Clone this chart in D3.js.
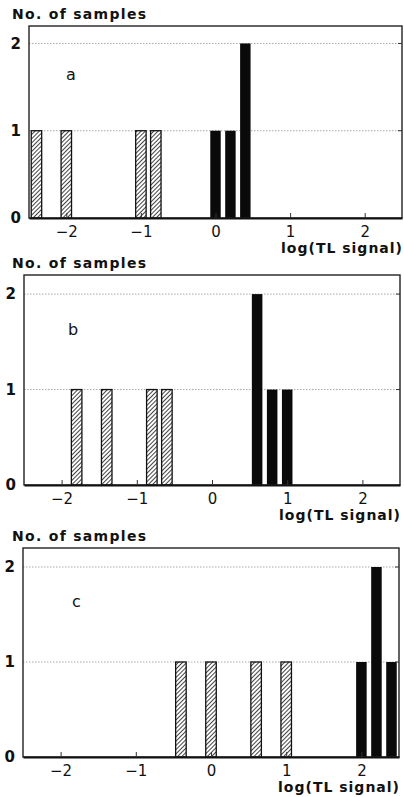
<!DOCTYPE html>
<html>
<head>
<meta charset="utf-8">
<script src="https://cdn.jsdelivr.net/npm/d3@7"></script>
<style>
  body { margin: 0; background: #fff; }
  svg { display: block; }
  text { font-family: "DejaVu Sans", sans-serif; fill: #111; }
</style>
</head>
<body>
<svg width="404" height="797"></svg>
<script>
// bin centres (log TL signal) and sample counts
var aHatchX = [-2.4, -2.0, -1.0, -0.8]
var aHatchN = [1, 1, 1, 1]
var aSolidX = [0.0, 0.2, 0.4]
var aSolidN = [1, 1, 2]

var bHatchX = [-1.8, -1.4, -0.8, -0.6]
var bHatchN = [1, 1, 1, 1]
var bSolidX = [0.6, 0.8, 1.0]
var bSolidN = [2, 1, 1]

var cHatchX = [-0.4, 0.0, 0.6, 1.0]
var cHatchN = [1, 1, 1, 1]
var cSolidX = [2.0, 2.2, 2.4]
var cSolidN = [1, 2, 1]

var xTicks = [-2, -1, 0, 1, 2]
var yTicks = [0, 1, 2]
var panelLetters = ['a', 'b', 'c']

var svg = d3.select('svg')

var defs = svg.append('defs')
var pat = defs.append('pattern')
  .attr('id', 'hatch')
  .attr('patternUnits', 'userSpaceOnUse')
  .attr('width', 3)
  .attr('height', 3)
  .attr('patternTransform', 'rotate(45)')
pat.append('rect').attr('width', 3).attr('height', 3).attr('fill', '#fff')
pat.append('line')
  .attr('x1', 0).attr('y1', 0).attr('x2', 0).attr('y2', 3)
  .attr('stroke', '#222').attr('stroke-width', 1.7)

var panels = [
  { letter: panelLetters[0], hx: aHatchX, hn: aHatchN, sx: aSolidX, sn: aSolidN,
    left: 29, right: 402, top: 26, bottom: 218, lx: 66, ly: 80 },
  { letter: panelLetters[1], hx: bHatchX, hn: bHatchN, sx: bSolidX, sn: bSolidN,
    left: 24, right: 400, top: 275, bottom: 485, lx: 68, ly: 335 },
  { letter: panelLetters[2], hx: cHatchX, hn: cHatchN, sx: cSolidX, sn: cSolidN,
    left: 23, right: 399, top: 548, bottom: 757, lx: 72, ly: 607 }
]

var barW = 0.14

panels.forEach(function(p) {
  var g = svg.append('g')
  var x = d3.scaleLinear().domain([-2.5, 2.5]).range([p.left, p.right])
  var y = d3.scaleLinear().domain([0, 2.2]).range([p.bottom, p.top])

  // dotted grid lines
  g.selectAll('.grid').data(yTicks.filter(d => d > 0)).enter()
    .append('line')
    .attr('x1', p.left).attr('x2', p.right)
    .attr('y1', d => y(d)).attr('y2', d => y(d))
    .attr('stroke', '#aaa').attr('stroke-width', 1)
    .attr('stroke-dasharray', '1.5,1.5')

  // hatched bars
  g.selectAll('.hb').data(p.hx).enter()
    .append('rect')
    .attr('x', d => Math.max(x(d - barW / 2), p.left + 1))
    .attr('width', d => x(d + barW / 2) - Math.max(x(d - barW / 2), p.left + 1))
    .attr('y', (d, i) => y(p.hn[i]))
    .attr('height', (d, i) => p.bottom - y(p.hn[i]))
    .attr('fill', 'url(#hatch)')
    .attr('stroke', '#111').attr('stroke-width', 1.3)

  // solid bars
  g.selectAll('.sb').data(p.sx).enter()
    .append('rect')
    .attr('x', d => x(d - barW / 2))
    .attr('width', d => x(d + barW / 2) - x(d - barW / 2))
    .attr('y', (d, i) => y(p.sn[i]))
    .attr('height', (d, i) => p.bottom - y(p.sn[i]))
    .attr('fill', '#0a0a0a')

  // frame
  g.append('rect')
    .attr('x', p.left).attr('y', p.top)
    .attr('width', p.right - p.left).attr('height', p.bottom - p.top)
    .attr('fill', 'none').attr('stroke', '#222').attr('stroke-width', 1.4)

  // x axis: inward ticks, labels below
  var xAxis = d3.axisBottom(x).tickValues(xTicks).tickSizeInner(-5).tickSizeOuter(0)
    .tickPadding(8)
    .tickFormat(d => d < 0 ? '\u2212' + Math.abs(d) : d)
  var xa = g.append('g').attr('transform', 'translate(0,' + p.bottom + ')').call(xAxis)
  xa.select('.domain').attr('stroke', '#111').attr('stroke-width', 2)
  xa.selectAll('line').attr('stroke', '#333')
  xa.selectAll('text')
    .style('font-size', '15px').style('font-family', '"DejaVu Sans", sans-serif')
    .attr('fill', '#111')

  // y axis labels on the left, small ticks on the right edge
  var yAxis = d3.axisLeft(y).tickValues(yTicks).tickSize(0).tickPadding(8)
    .tickFormat(d3.format('d'))
  var ya = g.append('g').attr('transform', 'translate(' + p.left + ',0)').call(yAxis)
  ya.select('.domain').remove()
  ya.selectAll('text')
    .style('font-size', '15px').style('font-family', '"DejaVu Sans", sans-serif')
    .style('font-weight', 'bold').attr('fill', '#111')

  g.selectAll('.rt').data(yTicks.filter(d => d > 0)).enter()
    .append('line')
    .attr('x1', p.right - 4).attr('x2', p.right)
    .attr('y1', d => y(d)).attr('y2', d => y(d))
    .attr('stroke', '#333')

  g.append('text')
    .attr('x', 12).attr('y', p.top - 7)
    .style('font-size', '14px').style('font-weight', 'bold')
    .style('letter-spacing', '1.3px')
    .text('No. of samples')

  g.append('text')
    .attr('x', p.right + 1).attr('y', p.bottom + 35)
    .attr('text-anchor', 'end')
    .style('font-size', '14px').style('font-weight', 'bold')
    .style('letter-spacing', '1px')
    .text('log(TL signal)')

  g.append('text')
    .attr('x', p.lx).attr('y', p.ly)
    .style('font-size', '16px')
    .text(p.letter)
})
</script>
</body>
</html>
